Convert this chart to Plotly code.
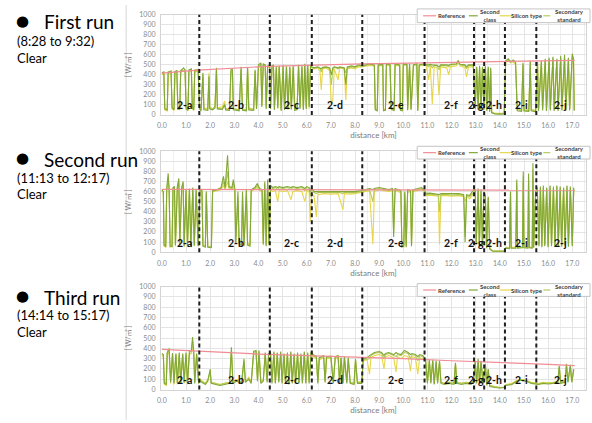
import plotly.graph_objects as go

W, H = 592, 423

# ---------------- Run 1 (8:28 to 9:32) ----------------
d1 = [0.00, 0.08, 0.12, 0.22, 0.26, 0.38, 0.42, 0.50, 0.54, 0.62, 0.66, 0.74, 0.78, 0.90, 0.96, 1.00, 1.08, 1.12, 1.22, 1.26, 1.32, 1.36, 1.50,
      1.56, 1.62, 1.70, 1.74, 1.90, 1.95, 1.98, 2.10, 2.20, 2.26, 2.30, 2.50, 2.60, 2.64, 2.80, 2.86, 2.92, 2.96, 3.20, 3.28, 3.34, 3.50, 3.55, 3.60, 3.80, 3.86, 3.92, 4.00, 4.10, 4.14, 4.20, 4.28, 4.32, 4.38, 4.46,
      4.50, 4.56, 4.62, 4.66, 4.74, 4.80, 4.86, 4.94, 5.02, 5.08, 5.16, 5.22, 5.30, 5.36, 5.44, 5.50, 5.60, 5.66, 5.72, 5.80, 5.86, 5.92, 5.98, 6.04, 6.10, 6.16, 6.20,
      6.30, 6.45, 6.55, 6.60, 6.66, 6.80, 6.95, 7.02, 7.08, 7.14, 7.30, 7.36, 7.55, 7.62, 7.68, 7.85, 8.00, 8.15, 8.30,
      8.45, 8.60, 8.80, 8.84, 8.92, 8.96, 9.15, 9.18, 9.26, 9.30, 9.45, 9.50, 9.62, 9.66, 9.85, 9.88, 9.96, 10.00, 10.15, 10.18, 10.26, 10.32, 10.42, 10.56, 10.60, 10.66, 10.85,
      10.95, 11.05, 11.12, 11.20, 11.28, 11.40, 11.48, 11.55, 11.80, 11.88, 11.95, 12.20, 12.28, 12.35, 12.55, 12.62, 12.70, 12.90,
      12.98, 13.04, 13.10, 13.16, 13.22, 13.28, 13.34,
      13.40, 13.46, 13.52, 13.58, 13.62, 13.66, 13.80, 14.00, 14.18,
      14.24, 14.35, 14.45, 14.55, 14.65, 14.72, 14.90, 14.96, 15.00, 15.20, 15.26, 15.30, 15.48,
      15.56, 15.60, 15.72, 15.77, 15.88, 15.93, 16.04, 16.09, 16.20, 16.25, 16.36, 16.41, 16.52, 16.57, 16.68, 16.73, 16.84, 16.89, 17.00, 17.05, 17.08]
sc1 = [420, 430, 60, 45, 425, 440, 70, 50, 430, 445, 55, 60, 440, 470, 450, 60, 45, 450, 460, 70, 50, 440, 450,
       60, 40, 420, 50, 45, 380, 60, 50, 70, 470, 60, 55, 100, 50, 45, 450, 460, 50, 40, 480, 45, 40, 470, 50, 45, 450, 60, 500, 520, 80, 510, 500, 60, 490, 500,
       60, 490, 500, 50, 480, 70, 490, 40, 500, 50, 480, 60, 480, 55, 490, 45, 50, 500, 60, 490, 50, 510, 60, 500, 80, 500, 480,
       470, 480, 470, 460, 475, 480, 470, 400, 470, 480, 470, 480, 470, 300, 480, 490, 480, 500, 490,
       500, 510, 500, 50, 40, 500, 505, 40, 45, 510, 505, 60, 40, 510, 500, 45, 40, 510, 505, 50, 510, 50, 500, 510, 40, 500, 510,
       500, 500, 505, 500, 500, 495, 480, 500, 500, 495, 505, 510, 545, 505, 500, 480, 500, 500,
       60, 480, 50, 490, 40, 480, 50,
       490, 40, 480, 30, 470, 20, 10, 8, 10,
       540, 560, 530, 550, 530, 40, 35, 520, 40, 35, 540, 40, 30,
       530, 40, 540, 45, 560, 40, 570, 45, 580, 40, 560, 40, 590, 45, 600, 40, 570, 45, 610, 560, 40]
si1 = [400, 410, 50, 40, 415, 420, 60, 45, 420, 430, 60, 50, 425, 440, 430, 70, 40, 430, 440, 60, 45, 430, 435,
       80, 60, 380, 60, 70, 420, 80, 60, 90, 450, 70, 80, 140, 60, 55, 420, 440, 60, 50, 440, 60, 50, 460, 70, 55, 430, 70, 480, 500, 100, 490, 480, 80, 470, 480,
       80, 470, 490, 70, 470, 60, 480, 60, 470, 60, 490, 50, 470, 70, 470, 60, 55, 490, 80, 470, 60, 480, 70, 480, 60, 490, 470,
       460, 470, 440, 250, 460, 470, 440, 110, 150, 460, 350, 470, 460, 150, 460, 470, 460, 480, 480,
       490, 495, 490, 60, 50, 490, 495, 60, 55, 500, 490, 50, 60, 495, 490, 60, 50, 500, 495, 45, 490, 60, 495, 500, 50, 490, 500,
       490, 350, 490, 110, 480, 470, 200, 480, 470, 400, 480, 490, 520, 490, 470, 380, 480, 480,
       80, 460, 60, 470, 60, 460, 70,
       470, 50, 460, 40, 450, 30, 15, 12, 15,
       530, 540, 520, 530, 500, 60, 50, 500, 50, 45, 520, 50, 45,
       510, 50, 520, 55, 530, 50, 540, 60, 550, 50, 540, 55, 560, 50, 560, 55, 540, 50, 580, 540, 50]
ss1 = [410, 420, 70, 55, 430, 430, 80, 60, 435, 440, 65, 70, 445, 450, 445, 80, 55, 440, 455, 90, 60, 450, 455,
       70, 50, 400, 60, 55, 400, 70, 60, 80, 460, 65, 60, 110, 60, 55, 430, 450, 60, 50, 460, 55, 50, 465, 60, 55, 440, 70, 490, 510, 90, 500, 495, 70, 480, 490,
       70, 480, 495, 60, 475, 80, 485, 50, 480, 60, 485, 70, 475, 60, 480, 55, 60, 495, 70, 480, 60, 500, 70, 490, 90, 495, 475,
       470, 475, 465, 430, 470, 475, 460, 300, 450, 475, 460, 475, 470, 420, 470, 480, 475, 490, 485,
       495, 505, 495, 60, 50, 500, 500, 50, 55, 505, 500, 70, 50, 505, 495, 55, 50, 505, 500, 60, 500, 60, 500, 505, 50, 500, 505,
       500, 480, 500, 470, 495, 490, 450, 495, 490, 480, 500, 505, 530, 500, 490, 460, 495, 495,
       70, 470, 60, 480, 50, 470, 60,
       480, 50, 470, 40, 460, 25, 12, 10, 12,
       535, 550, 525, 540, 520, 50, 45, 510, 50, 45, 530, 50, 40,
       520, 50, 530, 55, 550, 50, 560, 55, 570, 50, 550, 50, 570, 55, 580, 50, 560, 55, 590, 550, 50]
ref_d1 = [0.0, 1.5, 4.4, 6.2, 8.3, 10.9, 13.0, 15.5, 17.1]
ref1 = [418, 448, 485, 500, 510, 520, 530, 540, 545]

# ---------------- Run 2 (11:13 to 12:17) ----------------
d2 = [0.00, 0.06, 0.09, 0.16, 0.20, 0.26, 0.30, 0.34, 0.42, 0.46, 0.52, 0.56, 0.64, 0.70, 0.74, 0.82, 0.88, 0.92, 1.00, 1.06, 1.14, 1.20, 1.28, 1.34, 1.42, 1.50,
      1.58, 1.66, 1.70, 1.80, 1.84, 1.90, 2.05, 2.10, 2.30, 2.45, 2.55, 2.62, 2.72, 2.78, 2.90, 2.96, 3.02, 3.06, 3.15, 3.20, 3.30, 3.34, 3.40, 3.50, 3.55, 3.65, 3.70, 3.85, 3.95, 4.05, 4.15, 4.20, 4.26, 4.32, 4.38, 4.44,
      4.50, 4.60, 4.70, 4.80, 4.86, 5.00, 5.20, 5.35, 5.42, 5.60, 5.80, 5.92, 6.00, 6.10, 6.14, 6.20,
      6.30, 6.40, 6.46, 6.70, 7.00, 7.30, 7.50, 7.56, 7.80, 8.00, 8.25,
      8.40, 8.60, 8.74, 8.80, 9.00, 9.20, 9.40, 9.55, 9.60, 9.66, 9.80, 9.90, 9.94, 10.02, 10.06, 10.12, 10.18, 10.30, 10.34, 10.40, 10.60, 10.75, 10.86,
      10.95, 11.10, 11.30, 11.45, 11.50, 11.56, 11.80, 12.00, 12.30, 12.50, 12.56, 12.62, 12.75, 12.85,
      12.98, 13.02, 13.10, 13.15, 13.22, 13.28, 13.34,
      13.40, 13.45, 13.52, 13.58, 13.70, 14.00, 14.18,
      14.25, 14.40, 14.44, 14.47, 14.66, 14.70, 14.73, 14.94, 14.97, 15.00, 15.16, 15.19, 15.22, 15.34, 15.37, 15.40, 15.48,
      15.55, 15.62, 15.68, 15.74, 15.80, 15.86, 15.94, 16.00, 16.08, 16.14, 16.22, 16.28, 16.36, 16.42, 16.50, 16.56, 16.64, 16.70, 16.78, 16.84, 16.92, 17.00, 17.06]
sc2 = [620, 600, 70, 60, 630, 780, 620, 60, 55, 640, 650, 70, 650, 730, 80, 640, 700, 60, 620, 70, 630, 60, 640, 65, 620, 60,
       620, 610, 60, 50, 600, 50, 45, 610, 620, 640, 750, 640, 960, 650, 640, 720, 630, 90, 600, 80, 70, 600, 60, 620, 70, 60, 620, 640, 680, 630, 620, 80, 700, 60, 720, 80,
       660, 640, 650, 640, 650, 640, 650, 640, 650, 640, 650, 630, 650, 640, 600, 640,
       600, 600, 600, 605, 600, 600, 600, 605, 600, 600, 610,
       620, 630, 620, 630, 640, 630, 620, 630, 150, 630, 620, 610, 50, 60, 600, 50, 620, 610, 60, 620, 630, 640, 620,
       580, 585, 580, 575, 570, 580, 580, 575, 580, 570, 100, 570, 560, 600,
       620, 80, 630, 60, 620, 70, 600,
       560, 40, 550, 30, 10, 8, 10,
       40, 35, 600, 40, 40, 720, 40, 45, 800, 45, 40, 780, 45, 40, 880, 45, 600,
       640, 60, 650, 50, 660, 60, 640, 50, 660, 60, 650, 55, 660, 60, 650, 55, 640, 60, 660, 55, 650, 60, 640]
si2 = [600, 590, 60, 50, 610, 700, 600, 50, 60, 620, 620, 60, 630, 680, 70, 620, 660, 50, 600, 80, 610, 50, 610, 60, 600, 70,
       600, 600, 70, 60, 580, 60, 55, 600, 610, 620, 660, 620, 700, 630, 620, 650, 610, 150, 450, 100, 120, 500, 80, 550, 90, 80, 600, 620, 640, 610, 600, 70, 650, 70, 640, 70,
       620, 600, 610, 500, 610, 600, 610, 520, 600, 610, 600, 500, 610, 600, 300, 580,
       560, 350, 570, 580, 575, 580, 420, 580, 575, 580, 590,
       600, 610, 80, 600, 620, 610, 600, 610, 620, 610, 600, 590, 60, 50, 580, 70, 600, 590, 80, 600, 610, 620, 600,
       560, 565, 560, 555, 80, 560, 560, 555, 560, 550, 500, 550, 530, 560,
       600, 100, 600, 80, 580, 60, 580,
       540, 60, 530, 40, 15, 10, 12,
       50, 50, 550, 50, 55, 650, 50, 55, 700, 55, 50, 700, 55, 50, 760, 55, 560,
       620, 80, 630, 70, 620, 80, 610, 70, 630, 80, 620, 70, 640, 80, 620, 75, 620, 80, 630, 70, 620, 80, 620]
ss2 = [610, 600, 80, 70, 620, 740, 610, 70, 65, 630, 640, 80, 640, 700, 90, 630, 680, 70, 610, 80, 620, 70, 630, 75, 610, 70,
       610, 605, 70, 60, 590, 60, 55, 605, 615, 630, 700, 630, 800, 640, 630, 680, 620, 100, 550, 90, 80, 560, 70, 600, 80, 70, 610, 630, 660, 620, 610, 90, 680, 70, 690, 90,
       640, 630, 640, 620, 640, 630, 640, 620, 640, 630, 640, 610, 640, 630, 550, 620,
       590, 580, 590, 595, 590, 595, 580, 595, 590, 590, 600,
       610, 620, 500, 620, 630, 620, 610, 620, 200, 620, 610, 600, 60, 70, 590, 60, 610, 600, 70, 610, 620, 630, 610,
       570, 575, 570, 565, 400, 570, 570, 565, 570, 560, 150, 560, 550, 580,
       610, 90, 620, 70, 600, 80, 590,
       550, 50, 540, 40, 12, 10, 12,
       45, 45, 580, 45, 45, 690, 45, 50, 760, 50, 45, 740, 50, 45, 820, 50, 580,
       630, 70, 640, 60, 640, 70, 630, 60, 650, 70, 640, 60, 650, 70, 640, 65, 630, 70, 650, 60, 640, 70, 630]
ref_d2 = [0.0, 4.0, 8.0, 12.0, 15.0, 17.1]
ref2 = [622, 620, 617, 616, 615, 614]

# ---------------- Run 3 (14:14 to 15:17) ----------------
d3 = [0.00, 0.06, 0.10, 0.18, 0.22, 0.30, 0.36, 0.44, 0.50, 0.58, 0.64, 0.72, 0.78, 0.86, 0.92, 1.00, 1.06, 1.14, 1.22, 1.27, 1.32, 1.36, 1.44, 1.52,
      1.58, 1.70, 1.80, 1.90, 2.00, 2.04, 2.20, 2.40, 2.60, 2.80, 2.88, 2.94, 3.10, 3.30, 3.40, 3.46, 3.60, 3.70, 3.80, 3.90, 3.96, 4.02, 4.10, 4.20, 4.28, 4.36, 4.42,
      4.50, 4.56, 4.64, 4.70, 4.78, 4.84, 4.92, 4.98, 5.06, 5.12, 5.20, 5.26, 5.34, 5.40, 5.48, 5.54, 5.62, 5.68, 5.76, 5.82, 5.90, 5.96, 6.04, 6.10, 6.18,
      6.26, 6.40, 6.46, 6.52, 6.70, 6.76, 6.82, 7.00, 7.10, 7.18, 7.30, 7.36, 7.42, 7.50, 7.56, 7.66, 7.72, 7.80, 7.96, 8.02, 8.10, 8.28,
      8.34, 8.50, 8.60, 8.66, 8.80, 9.00, 9.10, 9.20, 9.26, 9.40, 9.60, 9.70, 9.76, 9.90, 10.05, 10.20, 10.30, 10.36, 10.50, 10.60, 10.68, 10.80,
      10.92, 11.00, 11.08, 11.14, 11.22, 11.28, 11.36, 11.42, 11.50, 11.56, 11.70, 11.90, 12.10, 12.16, 12.22, 12.40, 12.60, 12.80, 12.90,
      12.98, 13.04, 13.10, 13.16, 13.22, 13.30,
      13.40, 13.46, 13.52, 13.58, 13.80, 14.00, 14.18,
      14.25, 14.50, 14.70, 14.90, 15.10, 15.30, 15.48,
      15.60, 15.80, 16.00, 16.20, 16.40, 16.46, 16.52, 16.70, 16.76, 16.82, 16.92, 16.98, 17.06]
sc3 = [350, 340, 60, 50, 360, 400, 70, 355, 60, 350, 65, 360, 60, 350, 70, 360, 60, 370, 380, 510, 360, 60, 350, 60,
       80, 60, 50, 80, 200, 60, 50, 40, 50, 60, 410, 60, 80, 60, 300, 70, 100, 60, 370, 380, 80, 380, 60, 80, 360, 70, 350,
       360, 60, 370, 60, 360, 70, 370, 60, 350, 60, 360, 50, 370, 60, 350, 60, 360, 60, 350, 60, 370, 60, 360, 60, 370,
       340, 320, 60, 310, 330, 70, 320, 325, 60, 320, 330, 60, 310, 60, 320, 60, 310, 60, 50, 300, 60, 60,
       300, 310, 330, 340, 360, 370, 360, 330, 350, 360, 340, 360, 350, 340, 380, 360, 340, 350, 340, 320, 340, 330,
       300, 60, 290, 60, 290, 50, 280, 60, 280, 60, 50, 60, 50, 260, 60, 50, 60, 50, 70,
       280, 60, 300, 60, 280, 60,
       250, 40, 200, 30, 20, 15, 20,
       40, 50, 80, 90, 80, 60, 50,
       50, 60, 55, 60, 70, 230, 60, 70, 250, 70, 240, 70, 200]
si3 = [330, 320, 50, 40, 340, 360, 60, 330, 50, 340, 50, 330, 55, 340, 60, 340, 50, 340, 350, 420, 340, 70, 330, 80,
       100, 80, 60, 100, 150, 70, 60, 50, 60, 70, 350, 80, 100, 70, 250, 80, 120, 80, 340, 350, 100, 350, 80, 90, 340, 90, 330,
       340, 80, 350, 70, 340, 80, 350, 70, 330, 80, 340, 60, 350, 70, 330, 80, 340, 70, 330, 80, 350, 70, 340, 80, 340,
       320, 300, 80, 290, 310, 80, 300, 305, 70, 300, 310, 80, 300, 70, 300, 80, 290, 70, 60, 280, 70, 80,
       280, 290, 150, 310, 330, 340, 330, 200, 320, 330, 310, 170, 320, 300, 330, 320, 180, 320, 310, 150, 310, 300,
       280, 80, 270, 70, 270, 60, 260, 80, 260, 70, 60, 70, 60, 240, 70, 60, 70, 60, 80,
       250, 80, 260, 70, 250, 70,
       220, 50, 180, 40, 30, 20, 25,
       50, 60, 90, 100, 90, 70, 60,
       60, 70, 65, 70, 80, 210, 70, 80, 230, 80, 220, 80, 180]
ss3 = [340, 330, 70, 60, 350, 380, 80, 345, 70, 345, 70, 350, 70, 345, 80, 350, 70, 360, 370, 470, 350, 70, 340, 70,
       90, 70, 60, 90, 180, 70, 60, 50, 60, 70, 380, 70, 90, 70, 280, 80, 110, 70, 360, 370, 90, 370, 70, 90, 350, 80, 340,
       350, 70, 360, 70, 350, 80, 360, 70, 340, 70, 350, 60, 360, 70, 340, 70, 350, 70, 340, 70, 360, 70, 350, 70, 360,
       330, 310, 70, 300, 320, 80, 310, 315, 70, 310, 320, 70, 305, 70, 310, 70, 300, 70, 60, 290, 70, 70,
       290, 300, 300, 330, 350, 360, 350, 300, 340, 350, 330, 320, 340, 330, 360, 350, 300, 340, 330, 280, 330, 320,
       290, 70, 280, 70, 280, 60, 270, 70, 270, 70, 60, 70, 60, 250, 70, 60, 70, 60, 80,
       270, 70, 280, 70, 270, 70,
       240, 50, 190, 40, 25, 18, 22,
       45, 55, 85, 95, 85, 65, 55,
       55, 65, 60, 65, 75, 220, 65, 75, 240, 75, 230, 75, 190]
ref_d3 = [0.0, 2.0, 4.0, 6.0, 8.0, 10.0, 12.0, 14.0, 16.0, 17.1]
ref3 = [390, 365, 345, 330, 318, 300, 280, 265, 245, 232]

# ---------------- Labels ----------------
run_titles = ["First run", "Second run", "Third run"]
run_times = ["(8:28 to 9:32)", "(11:13 to 12:17)", "(14:14 to 15:17)"]
run_weather = ["Clear", "Clear", "Clear"]
section_labels = ["2-a", "2-b", "2-c", "2-d", "2-e", "2-f", "2-g", "2-h", "2-i", "2-j"]
section_label_km = [0.95, 3.07, 5.37, 7.17, 9.71, 11.97, 13.02, 13.77, 14.9, 16.52]
section_bounds_km = [1.55, 4.47, 6.21, 8.30, 10.88, 12.93, 13.35, 14.21, 15.51]
legend_names = ["Reference", "Second<br>class", "Silicon type", "Secondary<br>standard"]
x_ticks = [float(v) for v in range(0, 18)]
y_ticks = list(range(0, 1001, 100))

C_REF = "#f08c94"
C_SC = "#82a837"
C_SI = "#e8d64a"
C_SS = "#b4cd5c"
FONT = "Lato, 'Noto Sans CJK JP', sans-serif"

runs = [
    (d1, sc1, si1, ss1, ref_d1, ref1),
    (d2, sc2, si2, ss2, ref_d2, ref2),
    (d3, sc3, si3, ss3, ref_d3, ref3),
]

# pixel layout helpers
def px_x(p):
    return p / W

def px_y(p):
    return 1 - p / H

plot_tops = [10, 149, 287]
plot_bots = [112, 252, 392]
x_left, x_right = 158, 586
legend_boxes = [(4, 18), (144, 157), (284, 297)]
text_rows = [(17, 37, 54), (157, 176, 193), (298, 316, 333)]

fig = go.Figure()
layout = dict(
    width=W, height=H, margin=dict(l=0, r=0, t=0, b=0),
    paper_bgcolor="white", plot_bgcolor="white",
    font=dict(family=FONT, color="#404040"),
    showlegend=False,
)
shapes = []
annotations = []

for i, (d, sc, si, ss, rd, rf) in enumerate(runs):
    k = "" if i == 0 else str(i + 1)
    xa, ya = "x" + k, "y" + k
    fig.add_trace(go.Scatter(x=d, y=si, xaxis=xa, yaxis=ya, mode="lines", name="Silicon type",
                             line=dict(color=C_SI, width=1.1)))
    fig.add_trace(go.Scatter(x=d, y=ss, xaxis=xa, yaxis=ya, mode="lines", name="Secondary standard",
                             line=dict(color=C_SS, width=1.1)))
    fig.add_trace(go.Scatter(x=d, y=sc, xaxis=xa, yaxis=ya, mode="lines", name="Second class",
                             line=dict(color=C_SC, width=1.1)))
    fig.add_trace(go.Scatter(x=rd, y=rf, xaxis=xa, yaxis=ya, mode="lines", name="Reference",
                             line=dict(color=C_REF, width=1.2)))

    ydom = [px_y(plot_bots[i]), px_y(plot_tops[i])]
    layout["xaxis" + k] = dict(
        domain=[px_x(x_left), px_x(x_right)], range=[-0.04, 17.57], anchor=ya,
        tickvals=x_ticks, ticktext=[f"{v:.1f}" for v in x_ticks],
        showgrid=True, gridcolor="#e4e4e4", gridwidth=1,
        minor=dict(dtick=0.5, tick0=0, showgrid=True, gridcolor="#efefef"),
        showline=True, linecolor="#d4d4d4", mirror=True, zeroline=False,
        ticks="", tickfont=dict(size=7, color="#8a8a8a"), ticklabelstandoff=4,
        title=dict(text="distance [km]", font=dict(size=8, color="#7a7a7a"), standoff=4),
    )
    layout["yaxis" + k] = dict(
        domain=ydom, range=[0, 1000], anchor=xa,
        tickvals=y_ticks, showgrid=True, gridcolor="#e4e4e4",
        showline=True, linecolor="#d4d4d4", mirror=True, zeroline=False,
        ticks="", tickfont=dict(size=7, color="#8a8a8a"), ticklabelstandoff=3,
        title=dict(text="[ W/㎡ ]", font=dict(size=7, color="#7a7a7a"), standoff=6),
    )

    # section boundaries
    for b in section_bounds_km:
        shapes.append(dict(type="line", xref=xa, yref=ya + " domain", x0=b, x1=b, y0=0, y1=1,
                           line=dict(color="#1e1e1e", width=2, dash="4px,3px"), layer="above"))
    # section labels
    for lab, xk in zip(section_labels, section_label_km):
        annotations.append(dict(x=xk, y=95, xref=xa, yref=ya, text="<b>" + lab + "</b>", showarrow=False,
                                font=dict(size=10.5, color="#111111", family=FONT),
                                xanchor="center", yanchor="middle"))

    # legend box (drawn manually, kept inside the picture)
    bt, bb = legend_boxes[i]
    yc = (bt + bb) / 2
    shapes.append(dict(type="rect", xref="paper", yref="paper", x0=px_x(416), x1=px_x(590),
                       y0=px_y(bb), y1=px_y(bt), line=dict(color="#c4c4c4", width=1),
                       fillcolor="white", layer="above"))
    samples = [(422, 435, C_REF), (468, 477, C_SC), (499, 512, C_SI), (543, 550, C_SS)]
    for x0, x1, col in samples:
        shapes.append(dict(type="line", xref="paper", yref="paper", x0=px_x(x0), x1=px_x(x1),
                           y0=px_y(yc), y1=px_y(yc), line=dict(color=col, width=1.2), layer="above"))
    for name, xc, anc in zip(legend_names, [451, 489, 527, 553], ["center", "center", "center", "left"]):
        annotations.append(dict(x=px_x(xc), y=px_y(yc), xref="paper", yref="paper", text="<b>" + name + "</b>",
                                showarrow=False, xanchor=anc, yanchor="middle", align="center",
                                font=dict(size=6, color="#404040", family=FONT)))

    # run titles on the left
    ty, tt, tw = text_rows[i]
    annotations.append(dict(x=px_x(19), y=px_y(ty - 1), xref="paper", yref="paper", text="●",
                            showarrow=False, xanchor="center", yanchor="middle",
                            font=dict(size=15, color="black", family="DejaVu Sans")))
    annotations.append(dict(x=px_x(38), y=px_y(ty), xref="paper", yref="paper", text=run_titles[i],
                            showarrow=False, xanchor="left", yanchor="middle",
                            font=dict(size=19, color="black", family=FONT)))
    annotations.append(dict(x=px_x(11), y=px_y(tt), xref="paper", yref="paper", text=run_times[i],
                            showarrow=False, xanchor="left", yanchor="middle",
                            font=dict(size=13, color="black", family=FONT)))
    annotations.append(dict(x=px_x(11), y=px_y(tw), xref="paper", yref="paper", text=run_weather[i],
                            showarrow=False, xanchor="left", yanchor="middle",
                            font=dict(size=13, color="black", family=FONT)))

# separator line between the text column and the charts
shapes.append(dict(type="line", xref="paper", yref="paper", x0=px_x(123), x1=px_x(123), y0=0, y1=1,
                   line=dict(color="#d8d8d8", width=1)))

layout["shapes"] = shapes
layout["annotations"] = annotations
fig.update_layout(**layout)
fig.write_html("out.html")
